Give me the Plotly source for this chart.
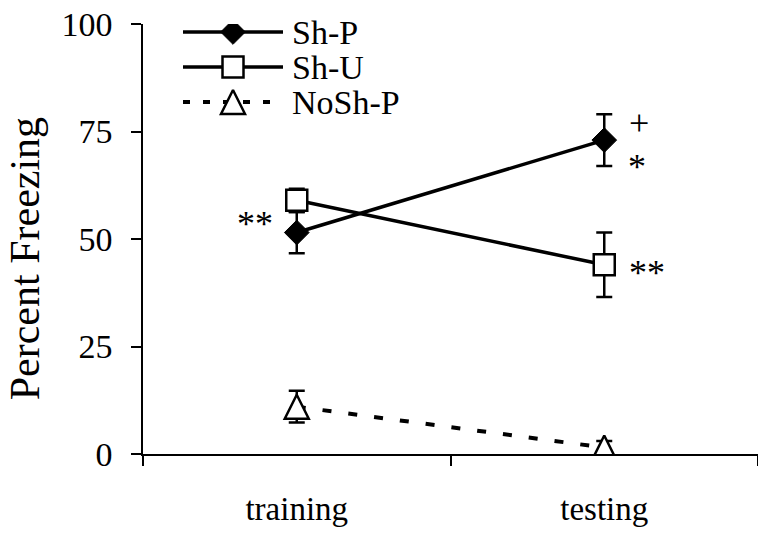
import plotly.graph_objects as go

# Session phases and their positions on the x axis
phases = ["training", "testing"]
phase_pos = [0, 1]

# Mean percent freezing and SEM per group
sh_p = [51.5, 73.0]
sh_p_err = [4.8, 6.0]
sh_u = [59.0, 44.0]
sh_u_err = [2.7, 7.5]
nosh_p = [11.0, 1.5]
nosh_p_err = [3.7, 1.5]

y_ticks = [0, 25, 50, 75, 100]

FONT = "Liberation Serif"
INK = "black"
TRI_SIZE = 24

# Upright triangle centred on the point: a flipped arrowhead pulled back by half its size
triangle = dict(symbol="arrow-down", angle=180, standoff=TRI_SIZE / 2, size=TRI_SIZE,
                color="white", line=dict(color=INK, width=2.5))

fig = go.Figure()

err_style = dict(type="data", color=INK, thickness=2.5, width=8)

fig.add_trace(go.Scatter(
    x=phase_pos, y=nosh_p, mode="lines+markers", name="NoSh-P",
    line=dict(color=INK, width=4, dash="9px,17px"),
    marker=triangle,
    error_y=dict(array=nosh_p_err, **err_style),
))
fig.add_trace(go.Scatter(
    x=phase_pos, y=sh_p, mode="lines+markers", name="Sh-P",
    line=dict(color=INK, width=3.5),
    marker=dict(symbol="diamond", size=19, color=INK, line=dict(color=INK, width=1)),
    error_y=dict(array=sh_p_err, **err_style),
))
fig.add_trace(go.Scatter(
    x=phase_pos, y=sh_u, mode="lines+markers", name="Sh-U",
    line=dict(color=INK, width=3.5),
    marker=dict(symbol="square", size=21, color="white", line=dict(color=INK, width=2.5)),
    error_y=dict(array=sh_u_err, **err_style),
))

# Legend drawn on a pixel-scaled overlay axis
legend_rows = [
    ("Sh-P", 32, dict(symbol="diamond", size=19, color=INK, line=dict(color=INK, width=1)), "solid", 283),
    ("Sh-U", 67, dict(symbol="square", size=21, color="white", line=dict(color=INK, width=2.5)), "solid", 283),
    ("NoSh-P", 102, triangle, "7px,13px", 275),
]
for label, ry, mk, dash, x_end in legend_rows:
    fig.add_trace(go.Scatter(
        x=[183, x_end], y=[ry, ry], mode="lines", xaxis="x3", yaxis="y3",
        line=dict(color=INK, width=3.5 if dash == "solid" else 4, dash=dash),
        hoverinfo="skip",
    ))
    fig.add_trace(go.Scatter(
        x=[233], y=[ry], mode="markers", xaxis="x3", yaxis="y3",
        marker=mk, hoverinfo="skip",
    ))
    fig.add_annotation(x=290, y=ry, xref="x3", yref="y3", text=label,
                       showarrow=False, xanchor="left", yanchor="middle",
                       font=dict(family=FONT, size=34, color=INK))

# Significance markers placed beside the group means
sig_marks = [
    ("**", 0, sh_p[0], -42, 9),
    ("+", 1, sh_p[1], 35, 17),
    ("*", 1, sh_p[1], 33, -27),
    ("**", 1, sh_u[1], 43, -8),
]
for txt, xi, yv, dx, dy in sig_marks:
    fig.add_annotation(x=phase_pos[xi], y=yv, xref="x", yref="y", text=txt,
                       showarrow=False, xshift=dx, yshift=dy,
                       font=dict(family=FONT, size=36, color=INK))

fig.add_annotation(x=-0.192, y=0.455, xref="paper", yref="paper",
                   xanchor="center", yanchor="middle",
                   text="Percent Freezing", textangle=-90, showarrow=False,
                   font=dict(family=FONT, size=42, color=INK))

fig.update_layout(
    width=758, height=536,
    margin=dict(l=143, r=0, t=24, b=82),
    paper_bgcolor="white", plot_bgcolor="white",
    showlegend=False,
    font=dict(family=FONT, color=INK),
    xaxis=dict(range=[-0.5, 1.5], tickvals=[-0.5, 0.5, 1.5], ticks="outside",
               ticklen=10, tickwidth=1.5, tickcolor=INK, showticklabels=False,
               showline=True, linecolor=INK, linewidth=1.5,
               showgrid=False, zeroline=False),
    xaxis2=dict(range=[-0.5, 1.5], overlaying="x", tickvals=phase_pos,
                ticktext=phases, ticks="", showline=False, showgrid=False,
                zeroline=False, ticklabelstandoff=32,
                tickfont=dict(family=FONT, size=33, color=INK)),
    yaxis=dict(range=[0, 100], tickvals=y_ticks, ticks="outside", ticklen=10,
               tickwidth=1.5, tickcolor=INK, showline=True, linecolor=INK,
               linewidth=1.5, showgrid=False, zeroline=False,
               ticklabelstandoff=12,
               tickfont=dict(family=FONT, size=34, color=INK)),
    xaxis3=dict(range=[143, 758], overlaying="x", visible=False),
    yaxis3=dict(range=[454, 24], overlaying="y", visible=False),
)

# Empty trace so the category axis is rendered
fig.add_trace(go.Scatter(x=phase_pos, y=[None, None], xaxis="x2", mode="markers",
                         hoverinfo="skip"))

fig.write_html("out.html")
